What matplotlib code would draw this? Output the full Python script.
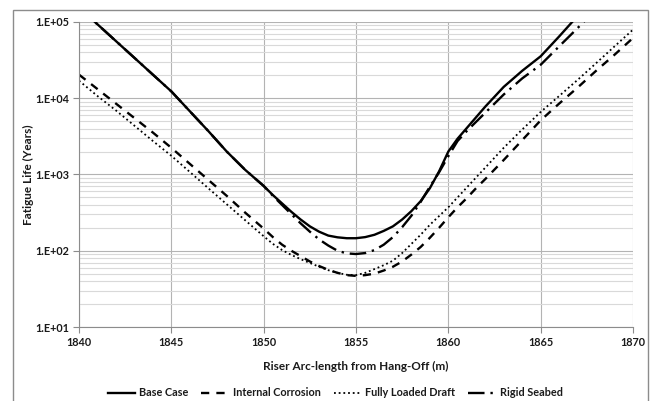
import numpy as np
import matplotlib.pyplot as plt
from matplotlib.patches import Rectangle
from matplotlib.ticker import LogLocator, NullFormatter

plt.rcParams['font.family'] = ['Lato', 'DejaVu Sans']

# Arc length along the riser (m): 1 m steps, 0.5 m around the minimum
arc = ([1840, 1841, 1842, 1843, 1844, 1845, 1846, 1847, 1848, 1849]
       + [1850 + 0.5 * i for i in range(25)]
       + [1863, 1864, 1865, 1866, 1867, 1868, 1869, 1870])

# Fatigue life (years)
nan = np.nan
base_case = [155000, 93300, 56200, 33900, 20400, 12300, 6760, 3720, 2000, 1150,
             708, 537, 417, 324, 257, 209, 178, 158, 150, 146,
             146, 151, 162, 182, 209, 257, 331, 447, 661, 1100,
             2000, 2950, 4070, 5620, 7760,
             14100, 22900, 35500, 64600, 120000, 200000, nan, nan]
internal_corrosion = [20400, 13200, 8510, 5500, 3550, 2240, 1380, 851, 525, 316,
                      195, 151, 120, 100, 85.1, 72.4, 63.1, 56.2, 51.3, 47.9,
                      46.8, 47.9, 50.1, 55.0, 61.7, 72.4, 89.1, 112, 148, 200,
                      275, 372, 490, 661, 871,
                      1550, 2820, 5130, 8510, 13800, 22900, 37200, 61700]
fully_loaded = [17000, 10700, 6920, 4370, 2750, 1760, 1080, 661, 407, 251,
                155, 123, 102, 88.1, 77.6, 69.2, 61.7, 55.6, 51.3, 48.4,
                47.9, 51.3, 57.5, 64.6, 74.1, 93.3, 123, 162, 219, 285,
                372, 501, 676, 912, 1230,
                2240, 3890, 6610, 10700, 17400, 28800, 47900, 79400]
rigid_seabed = [155000, 93300, 56200, 33900, 20400, 12300, 6760, 3720, 2000, 1150,
                708, 525, 398, 302, 229, 178, 141, 117, 100, 92.3,
                90.6, 93.3, 102, 120, 151, 204, 288, 437, 692, 1070,
                1740, 2750, 3720, 4900, 6460,
                11200, 18200, 27500, 47900, 83200, 148000, nan, nan]

labels = ['Base Case', 'Internal Corrosion', 'Fully Loaded Draft', 'Rigid Seabed']
styles = ['-', (0, (3.5, 3)), (0, (1, 1.6)), (0, (7, 2.5, 1, 2.5))]
widths = [1.7, 1.7, 1.3, 1.7]
yticks = [10, 100, 1000, 10000, 100000]
ytick_labels = ['1.E+01', '1.E+02', '1.E+03', '1.E+04', '1.E+05']

fig = plt.figure(figsize=(6.57, 4.01), dpi=100)
ax = fig.add_axes([79/657, 1 - 327/401, (633 - 79)/657, (327 - 22)/401])

# outer frame of the chart area
fig.patches.append(Rectangle((13/657, -0.05), (648 - 13)/657, 1 - 10/401 + 0.05,
                             transform=fig.transFigure, fill=False,
                             edgecolor='#8c8c8c', lw=1.0))

series = [base_case, internal_corrosion, fully_loaded, rigid_seabed]
for vals, lab, ls, lw in zip(series, labels, styles, widths):
    ax.plot(arc, vals, color='black', linestyle=ls, lw=lw, label=lab)

ax.set_yscale('log')
ax.set_xlim(1840, 1870)
ax.set_ylim(10, 100000)
ax.set_xticks(np.arange(1840, 1871, 5))
ax.set_yticks(yticks)
ax.set_yticklabels(ytick_labels)
ax.yaxis.set_minor_locator(LogLocator(base=10, subs=np.arange(2, 10)))
ax.yaxis.set_minor_formatter(NullFormatter())

ax.grid(True, which='major', color='#b3b3b3', lw=0.8)
ax.grid(True, which='minor', axis='y', color='#d9d9d9', lw=0.8)
ax.set_axisbelow(True)

for s in ['top', 'right']:
    ax.spines[s].set_visible(False)
for s in ['left', 'bottom']:
    ax.spines[s].set_color('#8c8c8c')
    ax.spines[s].set_linewidth(0.8)

ax.tick_params(axis='both', which='major', length=4, color='#8c8c8c',
               labelsize=7.8, labelcolor='#1a1a1a', pad=3)
ax.tick_params(axis='y', which='minor', length=0)
for t in ax.get_xticklabels() + ax.get_yticklabels():
    t.set_fontweight('bold')

ax.set_xlabel('Riser Arc-length from Hang-Off (m)', fontsize=8.5, fontweight='bold',
              color='#1a1a1a')
ax.xaxis.set_label_coords(0.5, (327 - 361) / 305)
ax.set_ylabel('Fatigue Life (Years)', fontsize=8.5, fontweight='bold',
              color='#1a1a1a')
ax.yaxis.set_label_coords((34 - 79) / 554, 0.5)

leg = fig.legend(loc='center', bbox_to_anchor=(335/657, 1 - 393/401), ncol=4,
                 frameon=False, fontsize=7.8, handlelength=2.5, columnspacing=1.2,
                 handletextpad=0.4)
for t in leg.get_texts():
    t.set_fontweight('bold')
    t.set_color('#1a1a1a')

fig.savefig('out.png', dpi=100)
